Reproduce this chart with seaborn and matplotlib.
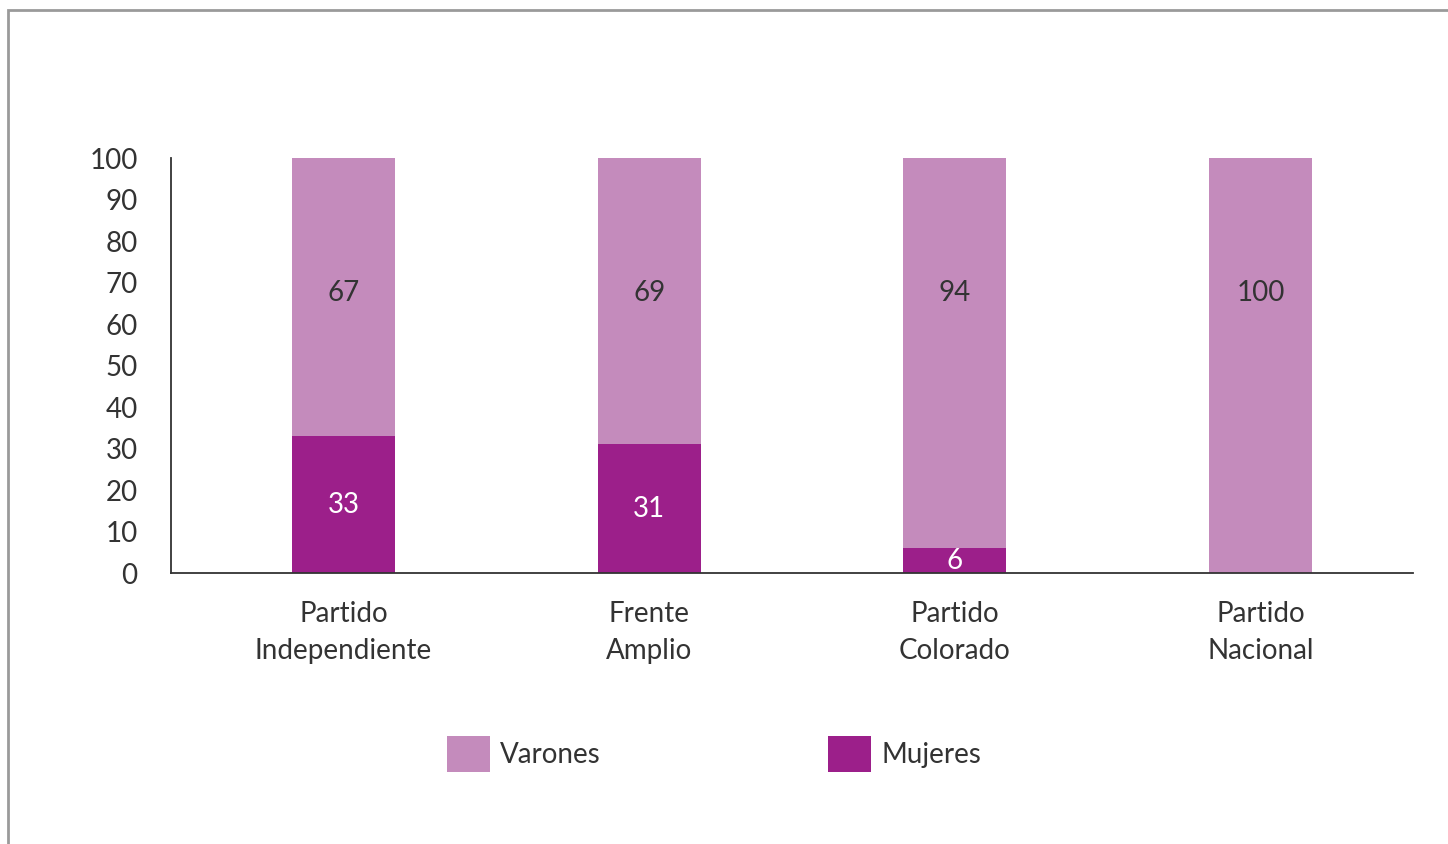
import numpy as np
import pandas as pd
import matplotlib
matplotlib.use("Agg")
import matplotlib.pyplot as plt
import seaborn as sns
from matplotlib.patches import Rectangle, Patch

partidos = ["Partido\nIndependiente", "Frente\nAmplio", "Partido\nColorado", "Partido\nNacional"]
mujeres = [33, 31, 6, 0]
varones = [67, 69, 94, 100]

COL_VAR = "#C48BBC"
COL_MUJ = "#9C1F8A"
TXT = "#333333"

sns.set_theme(style="white")
plt.rcParams["font.family"] = ["Lato", "DejaVu Sans"]

df = pd.DataFrame({"partido": partidos, "mujeres": mujeres, "varones": varones})
df["total"] = df["mujeres"] + df["varones"]

fig = plt.figure(figsize=(14.48, 8.44), dpi=100)
ax = fig.add_axes([171 / 1448, 1 - 573 / 844, (1413 - 171) / 1448, (573 - 158) / 844])

sns.barplot(data=df, x="partido", y="total", color=COL_VAR, width=0.337,
            saturation=1, linewidth=0, ax=ax)
sns.barplot(data=df, x="partido", y="mujeres", color=COL_MUJ, width=0.337,
            saturation=1, linewidth=0, ax=ax)

ax.set_ylim(0, 100)
ax.set_xlim(-0.564, 3.498)
ax.set_yticks(np.arange(0, 101, 10))
ax.set_xlabel("")
ax.set_ylabel("")
for s in ["top", "right"]:
    ax.spines[s].set_visible(False)
for s in ["left", "bottom"]:
    ax.spines[s].set_color("#333333")
    ax.spines[s].set_linewidth(1.3)
ax.tick_params(axis="y", length=0, pad=24, labelsize=20, labelcolor=TXT)
ax.tick_params(axis="x", length=0, pad=20, labelsize=20, labelcolor=TXT)
for lab in ax.get_xticklabels():
    lab.set_linespacing(1.55)

# etiquetas de valores
for i, (m, v) in enumerate(zip(mujeres, varones)):
    if m > 0:
        ax.text(i, m / 2, str(m), ha="center", va="center", color="white", fontsize=20)
    ax.text(i, 67.5, str(v), ha="center", va="center", color=TXT, fontsize=20)

handles = [Patch(facecolor=COL_VAR, edgecolor="none", label="Varones"),
           Patch(facecolor=COL_MUJ, edgecolor="none", label="Mujeres")]
fig.legend(handles=handles, loc="center", bbox_to_anchor=(714 / 1448, 1 - 754 / 844),
           ncol=2, frameon=False, fontsize=20, labelcolor=TXT,
           handlelength=1.55, handleheight=1.58, handletextpad=0.35,
           columnspacing=8.2)

# marco gris
fig.patches.append(Rectangle((8 / 1448, -0.1), 1.2, 1 - 10 / 844 + 0.1,
                             transform=fig.transFigure, fill=False,
                             edgecolor="#9a9a9a", linewidth=2))

fig.savefig("out.png", dpi=100)
